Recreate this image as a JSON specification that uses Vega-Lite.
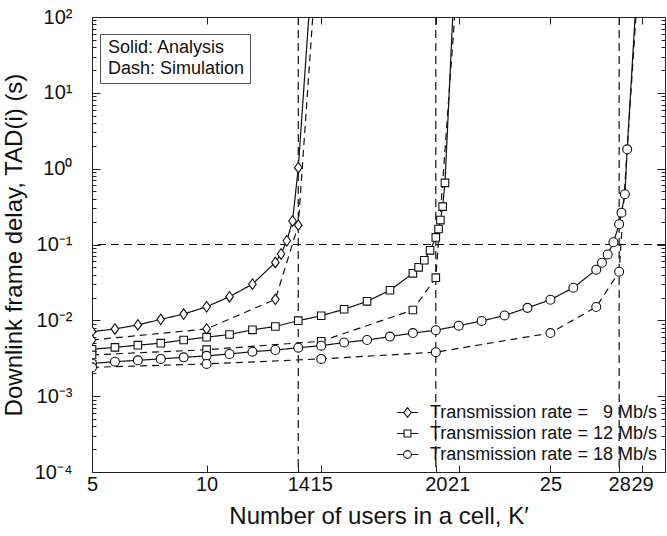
{
  "$schema": "https://vega.github.io/schema/vega-lite/v6.json",
  "width": 573,
  "height": 455,
  "autosize": "none",
  "padding": {"left": 92, "top": 17, "right": 2, "bottom": 64},
  "config": {
    "font": "Liberation Sans",
    "view": {"stroke": "#222", "strokeWidth": 1},
    "axis": {"domain": false, "grid": false, "tickColor": "#222", "tickWidth": 1, "labelColor": "#111", "titleColor": "#111", "labelFontSize": 20, "titleFontSize": 24, "titleFontWeight": "normal", "labelFlush": false, "labelOverlap": false}
  },
  "datasets": {
    "curves": [
      {"rate": 9, "type": "Analysis", "K": 5, "delay": 0.0071},
      {"rate": 9, "type": "Analysis", "K": 6, "delay": 0.0077},
      {"rate": 9, "type": "Analysis", "K": 7, "delay": 0.0087},
      {"rate": 9, "type": "Analysis", "K": 8, "delay": 0.0103},
      {"rate": 9, "type": "Analysis", "K": 9, "delay": 0.0121},
      {"rate": 9, "type": "Analysis", "K": 10, "delay": 0.0151},
      {"rate": 9, "type": "Analysis", "K": 11, "delay": 0.0205},
      {"rate": 9, "type": "Analysis", "K": 12, "delay": 0.030},
      {"rate": 9, "type": "Analysis", "K": 13, "delay": 0.058},
      {"rate": 9, "type": "Analysis", "K": 13.25, "delay": 0.075},
      {"rate": 9, "type": "Analysis", "K": 13.5, "delay": 0.112},
      {"rate": 9, "type": "Analysis", "K": 13.75, "delay": 0.204},
      {"rate": 9, "type": "Analysis", "K": 14, "delay": 1.03},
      {"rate": 9, "type": "Analysis", "K": 14.5, "delay": 150},
      {"rate": 9, "type": "Simulation", "K": 5, "delay": 0.0055},
      {"rate": 9, "type": "Simulation", "K": 10, "delay": 0.0077},
      {"rate": 9, "type": "Simulation", "K": 13, "delay": 0.0189},
      {"rate": 9, "type": "Simulation", "K": 14, "delay": 0.18},
      {"rate": 9, "type": "Simulation", "K": 14.7, "delay": 200},
      {"rate": 12, "type": "Analysis", "K": 5, "delay": 0.00415},
      {"rate": 12, "type": "Analysis", "K": 6, "delay": 0.0044},
      {"rate": 12, "type": "Analysis", "K": 7, "delay": 0.0047},
      {"rate": 12, "type": "Analysis", "K": 8, "delay": 0.0050},
      {"rate": 12, "type": "Analysis", "K": 9, "delay": 0.0055},
      {"rate": 12, "type": "Analysis", "K": 10, "delay": 0.0060},
      {"rate": 12, "type": "Analysis", "K": 11, "delay": 0.0065},
      {"rate": 12, "type": "Analysis", "K": 12, "delay": 0.0075},
      {"rate": 12, "type": "Analysis", "K": 13, "delay": 0.0083},
      {"rate": 12, "type": "Analysis", "K": 14, "delay": 0.0099},
      {"rate": 12, "type": "Analysis", "K": 15, "delay": 0.0115},
      {"rate": 12, "type": "Analysis", "K": 16, "delay": 0.014},
      {"rate": 12, "type": "Analysis", "K": 17, "delay": 0.0178},
      {"rate": 12, "type": "Analysis", "K": 18, "delay": 0.0249},
      {"rate": 12, "type": "Analysis", "K": 19, "delay": 0.0417},
      {"rate": 12, "type": "Analysis", "K": 19.25, "delay": 0.050},
      {"rate": 12, "type": "Analysis", "K": 19.5, "delay": 0.062},
      {"rate": 12, "type": "Analysis", "K": 19.75, "delay": 0.0838},
      {"rate": 12, "type": "Analysis", "K": 20, "delay": 0.124},
      {"rate": 12, "type": "Analysis", "K": 20.12, "delay": 0.16},
      {"rate": 12, "type": "Analysis", "K": 20.2, "delay": 0.21},
      {"rate": 12, "type": "Analysis", "K": 20.3, "delay": 0.316},
      {"rate": 12, "type": "Analysis", "K": 20.4, "delay": 0.65},
      {"rate": 12, "type": "Analysis", "K": 20.8, "delay": 250},
      {"rate": 12, "type": "Simulation", "K": 5, "delay": 0.0035},
      {"rate": 12, "type": "Simulation", "K": 10, "delay": 0.0041},
      {"rate": 12, "type": "Simulation", "K": 15, "delay": 0.0053},
      {"rate": 12, "type": "Simulation", "K": 19, "delay": 0.0137},
      {"rate": 12, "type": "Simulation", "K": 20, "delay": 0.0365},
      {"rate": 12, "type": "Simulation", "K": 20.9, "delay": 216},
      {"rate": 18, "type": "Analysis", "K": 5, "delay": 0.0027},
      {"rate": 18, "type": "Analysis", "K": 6, "delay": 0.00285},
      {"rate": 18, "type": "Analysis", "K": 7, "delay": 0.00297},
      {"rate": 18, "type": "Analysis", "K": 8, "delay": 0.0031},
      {"rate": 18, "type": "Analysis", "K": 9, "delay": 0.00325},
      {"rate": 18, "type": "Analysis", "K": 10, "delay": 0.0034},
      {"rate": 18, "type": "Analysis", "K": 11, "delay": 0.0036},
      {"rate": 18, "type": "Analysis", "K": 12, "delay": 0.00386},
      {"rate": 18, "type": "Analysis", "K": 13, "delay": 0.00406},
      {"rate": 18, "type": "Analysis", "K": 14, "delay": 0.00436},
      {"rate": 18, "type": "Analysis", "K": 15, "delay": 0.00463},
      {"rate": 18, "type": "Analysis", "K": 16, "delay": 0.0051},
      {"rate": 18, "type": "Analysis", "K": 17, "delay": 0.0055},
      {"rate": 18, "type": "Analysis", "K": 18, "delay": 0.0061},
      {"rate": 18, "type": "Analysis", "K": 19, "delay": 0.0068},
      {"rate": 18, "type": "Analysis", "K": 20, "delay": 0.0074},
      {"rate": 18, "type": "Analysis", "K": 21, "delay": 0.0085},
      {"rate": 18, "type": "Analysis", "K": 22, "delay": 0.0098},
      {"rate": 18, "type": "Analysis", "K": 23, "delay": 0.0116},
      {"rate": 18, "type": "Analysis", "K": 24, "delay": 0.0146},
      {"rate": 18, "type": "Analysis", "K": 25, "delay": 0.0187},
      {"rate": 18, "type": "Analysis", "K": 26, "delay": 0.0269},
      {"rate": 18, "type": "Analysis", "K": 27, "delay": 0.0466},
      {"rate": 18, "type": "Analysis", "K": 27.25, "delay": 0.0575},
      {"rate": 18, "type": "Analysis", "K": 27.5, "delay": 0.074},
      {"rate": 18, "type": "Analysis", "K": 27.75, "delay": 0.107},
      {"rate": 18, "type": "Analysis", "K": 28, "delay": 0.185},
      {"rate": 18, "type": "Analysis", "K": 28.1, "delay": 0.263},
      {"rate": 18, "type": "Analysis", "K": 28.25, "delay": 0.46},
      {"rate": 18, "type": "Analysis", "K": 28.35, "delay": 1.8},
      {"rate": 18, "type": "Analysis", "K": 28.8, "delay": 340},
      {"rate": 18, "type": "Simulation", "K": 5, "delay": 0.0024},
      {"rate": 18, "type": "Simulation", "K": 10, "delay": 0.00266},
      {"rate": 18, "type": "Simulation", "K": 15, "delay": 0.0031},
      {"rate": 18, "type": "Simulation", "K": 20, "delay": 0.0038},
      {"rate": 18, "type": "Simulation", "K": 25, "delay": 0.0068},
      {"rate": 18, "type": "Simulation", "K": 27, "delay": 0.015},
      {"rate": 18, "type": "Simulation", "K": 28, "delay": 0.0438},
      {"rate": 18, "type": "Simulation", "K": 28.8, "delay": 210}
    ],
    "vlines": [{"K": 14}, {"K": 20}, {"K": 28}],
    "hline": [{"delay": 0.1}]
  },
  "layer": [
    {
      "data": {"name": "vlines"},
      "mark": {"type": "rule", "stroke": "#111", "strokeWidth": 1.2, "strokeDash": [8, 5]},
      "encoding": {
        "x": {"field": "K", "type": "quantitative", "scale": {"domain": [5, 30], "nice": false, "zero": false},
          "axis": {"orient": "top", "values": [5, 10, 14, 15, 20, 21, 25, 28, 29], "labels": false, "title": null, "tickSize": -7}}
      }
    },
    {
      "data": {"name": "hline"},
      "mark": {"type": "rule", "stroke": "#111", "strokeWidth": 1.2, "strokeDash": [8, 5]},
      "encoding": {
        "y": {"field": "delay", "type": "quantitative",
          "axis": {"orient": "right", "labels": false, "title": null,
            "values": [0.0001, 0.0002, 0.0003, 0.0004, 0.0005, 0.0006, 0.0007, 0.0008, 0.0009, 0.001, 0.002, 0.003, 0.004, 0.005, 0.006, 0.007, 0.008, 0.009, 0.01, 0.02, 0.03, 0.04, 0.05, 0.06, 0.07, 0.08, 0.09, 0.1, 0.2, 0.3, 0.4, 0.5, 0.6, 0.7, 0.8, 0.9, 1, 2, 3, 4, 5, 6, 7, 8, 9, 10, 20, 30, 40, 50, 60, 70, 80, 90, 100],
            "tickSize": {"condition": {"test": "indexof([100, 10, 1, 0.1, 0.01, 0.001, 0.0001], datum.value) >= 0", "value": -8}, "value": -4}}}
      }
    },
    {
      "data": {"name": "curves"},
      "mark": {"type": "line", "stroke": "#111", "strokeWidth": 1.2, "clip": true},
      "encoding": {
        "x": {"field": "K", "type": "quantitative", "scale": {"domain": [5, 30], "nice": false, "zero": false},
          "axis": {"orient": "bottom", "values": [5, 10, 14, 15, 20, 21, 25, 28, 29], "tickSize": -7, "labelPadding": 9, "title": "Number of users in a cell, K′", "titlePadding": 10}},
        "y": {"field": "delay", "type": "quantitative", "scale": {"type": "log", "domain": [0.0001, 100], "nice": false},
          "axis": {"orient": "left", "title": "Downlink frame delay, TAD(i) (s)", "titlePadding": 8,
            "values": [0.0001, 0.0002, 0.0003, 0.0004, 0.0005, 0.0006, 0.0007, 0.0008, 0.0009, 0.001, 0.002, 0.003, 0.004, 0.005, 0.006, 0.007, 0.008, 0.009, 0.01, 0.02, 0.03, 0.04, 0.05, 0.06, 0.07, 0.08, 0.09, 0.1, 0.2, 0.3, 0.4, 0.5, 0.6, 0.7, 0.8, 0.9, 1, 2, 3, 4, 5, 6, 7, 8, 9, 10, 20, 30, 40, 50, 60, 70, 80, 90, 100],
            "tickSize": {"condition": {"test": "indexof([100, 10, 1, 0.1, 0.01, 0.001, 0.0001], datum.value) >= 0", "value": -8}, "value": -4},
            "labelPadding": 28,
            "labelExpr": "datum.value == 100 ? '10²' : datum.value == 10 ? '10¹' : datum.value == 1 ? '10⁰' : datum.value == 0.1 ? '10⁻¹' : datum.value == 0.01 ? '10⁻²' : datum.value == 0.001 ? '10⁻³' : datum.value == 0.0001 ? '10⁻⁴' : ''"}},
        "detail": {"field": "rate", "type": "nominal"},
        "strokeDash": {"field": "type", "type": "nominal", "scale": {"domain": ["Analysis", "Simulation"], "range": [[1, 0], [7, 5]]},
          "legend": {"orient": "none", "legendX": 8, "legendY": 17, "title": null, "labelFontSize": 18, "labelColor": "#111",
            "labelExpr": "datum.value == 'Analysis' ? 'Solid: Analysis' : 'Dash: Simulation'",
            "symbolSize": 0, "symbolOpacity": 0, "symbolStrokeWidth": 0, "labelOffset": -15, "padding": 5, "rowPadding": 3,
            "strokeColor": "#555", "fillColor": "white"}}
      }
    },
    {
      "data": {"name": "curves"},
      "mark": {"type": "point", "filled": true, "fill": "white", "stroke": "#111", "strokeWidth": 1.1, "size": 110, "opacity": 1, "clip": true},
      "encoding": {
        "x": {"field": "K", "type": "quantitative", "axis": null},
        "y": {"field": "delay", "type": "quantitative", "axis": null},
        "shape": {"field": "rate", "type": "nominal", "legend": null,
          "scale": {"domain": [9, 12, 18], "range": ["M0,-1L0.72,0L0,1L-0.72,0Z", "M-0.72,-0.72H0.72V0.72H-0.72Z", "M0.85,0A0.85,0.85 0 1,1 -0.85,0A0.85,0.85 0 1,1 0.85,0Z"]}}
      }
    },
    {
      "data": {"name": "curves"},
      "mark": {"type": "point", "filled": false, "color": "#111", "strokeWidth": 1.1, "opacity": 0, "clip": true},
      "encoding": {
        "x": {"field": "K", "type": "quantitative", "axis": null},
        "y": {"field": "delay", "type": "quantitative", "axis": null},
        "shape": {"field": "rate", "type": "nominal",
          "scale": {"domain": [9, 12, 18], "range": ["M-1,0H-0.35M0.35,0H1M0,-0.45L0.35,0L0,0.45L-0.35,0Z", "M-1,0H-0.32M0.32,0H1M-0.32,-0.32H0.32V0.32H-0.32Z", "M-1,0H-0.36M0.36,0H1M0.36,0A0.36,0.36 0 1,1 -0.36,0A0.36,0.36 0 1,1 0.36,0Z"]},
          "legend": {"orient": "bottom-right", "offset": 8, "title": null, "labelFontSize": 18, "labelColor": "#111", "rowPadding": -2, "labelLimit": 400,
            "symbolSize": 460, "symbolStrokeWidth": 1.1, "symbolStrokeColor": "#111", "symbolOpacity": 1, "labelOffset": 11,
            "labelExpr": "'Transmission rate = ' + (datum.value == 9 ? '\u2007' : '') + datum.value + ' Mb/s'"}}
      }
    }
  ],
  "resolve": {"axis": {"x": "independent", "y": "independent"}, "scale": {"shape": "independent"}}
}
